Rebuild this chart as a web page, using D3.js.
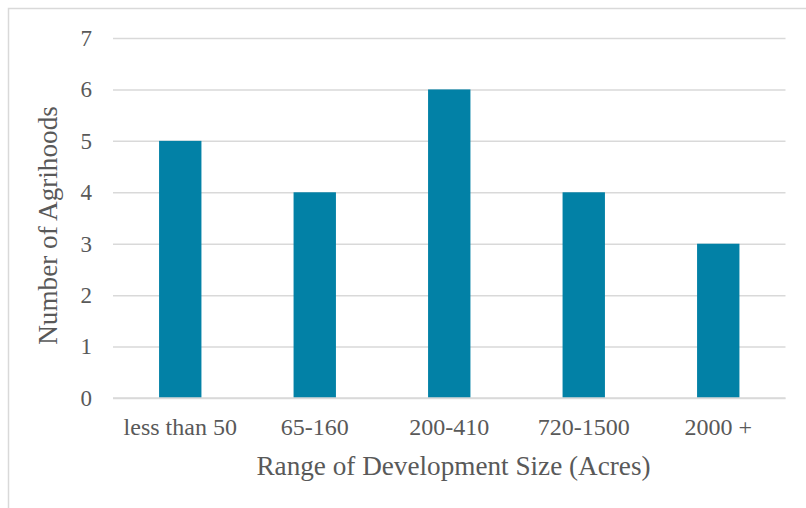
<!DOCTYPE html>
<html>
<head>
<meta charset="utf-8">
<script src="https://cdn.jsdelivr.net/npm/d3@7"></script>
<style>
  html, body { margin: 0; padding: 0; background: #ffffff; }
  svg { display: block; }
  text { font-family: "Liberation Serif", "Times New Roman", serif; fill: #595959; }
</style>
</head>
<body>
<svg id="chart" width="806" height="508"></svg>
<script>
const categories = ["less than 50", "65-160", "200-410", "720-1500", "2000 +"];
const values = [5, 4, 6, 4, 3];
const yTicks = [0, 1, 2, 3, 4, 5, 6, 7];
const xTitle = "Range of Development Size (Acres)";
const yTitle = "Number of Agrihoods";

const svg = d3.select("#chart");
const W = 806, H = 508;
const plot = { left: 113, right: 785.5, top: 38, bottom: 398 };

svg.append("rect")
  .attr("x", 8.5).attr("y", 8.5)
  .attr("width", W + 10).attr("height", H + 10)
  .attr("fill", "none").attr("stroke", "#d9d9d9").attr("stroke-width", 1.5);

const x = d3.scaleBand()
  .domain(categories)
  .range([plot.left, plot.right])
  .paddingInner(0.685)
  .paddingOuter(0.3425);

const y = d3.scaleLinear()
  .domain([0, 7])
  .range([plot.bottom, plot.top]);

// gridlines
const grid = svg.append("g")
  .attr("transform", `translate(${plot.left},0)`)
  .call(d3.axisLeft(y).tickValues(yTicks).tickSize(-(plot.right - plot.left)).tickFormat(""));
grid.select(".domain").remove();
grid.selectAll("line").attr("stroke", "#d9d9d9").attr("stroke-width", 1.5);

// bars
svg.append("g").selectAll("rect")
  .data(values)
  .join("rect")
  .attr("x", (d, i) => x(categories[i]))
  .attr("width", x.bandwidth())
  .attr("y", d => y(d))
  .attr("height", d => y(0) - y(d))
  .attr("fill", "#0281a6");

// y axis labels
const yAxis = svg.append("g")
  .attr("transform", `translate(${plot.left},0)`)
  .call(d3.axisLeft(y).tickValues(yTicks).tickSize(0).tickPadding(21).tickFormat(d3.format("d")));
yAxis.select(".domain").remove();
yAxis.selectAll("text")
  .style("font-family", '"Liberation Serif", serif')
  .style("font-size", "23px")
  .attr("fill", "#595959");

// x axis
const xAxis = svg.append("g")
  .attr("transform", `translate(0,${plot.bottom})`)
  .call(d3.axisBottom(x).tickSize(0).tickPadding(20));
xAxis.select(".domain").attr("stroke", "#d9d9d9").attr("stroke-width", 1.5)
  .attr("d", `M${plot.left},0H${plot.right}`);
xAxis.selectAll("text")
  .style("font-family", '"Liberation Serif", serif')
  .style("font-size", "24px")
  .attr("fill", "#595959");

// titles
svg.append("text")
  .attr("x", 453.5).attr("y", 475)
  .attr("text-anchor", "middle")
  .style("font-size", "27.2px")
  .text(xTitle);

svg.append("text")
  .attr("transform", "translate(57,225.5) rotate(-90)")
  .attr("text-anchor", "middle")
  .style("font-size", "27.2px")
  .text(yTitle);
</script>
</body>
</html>
